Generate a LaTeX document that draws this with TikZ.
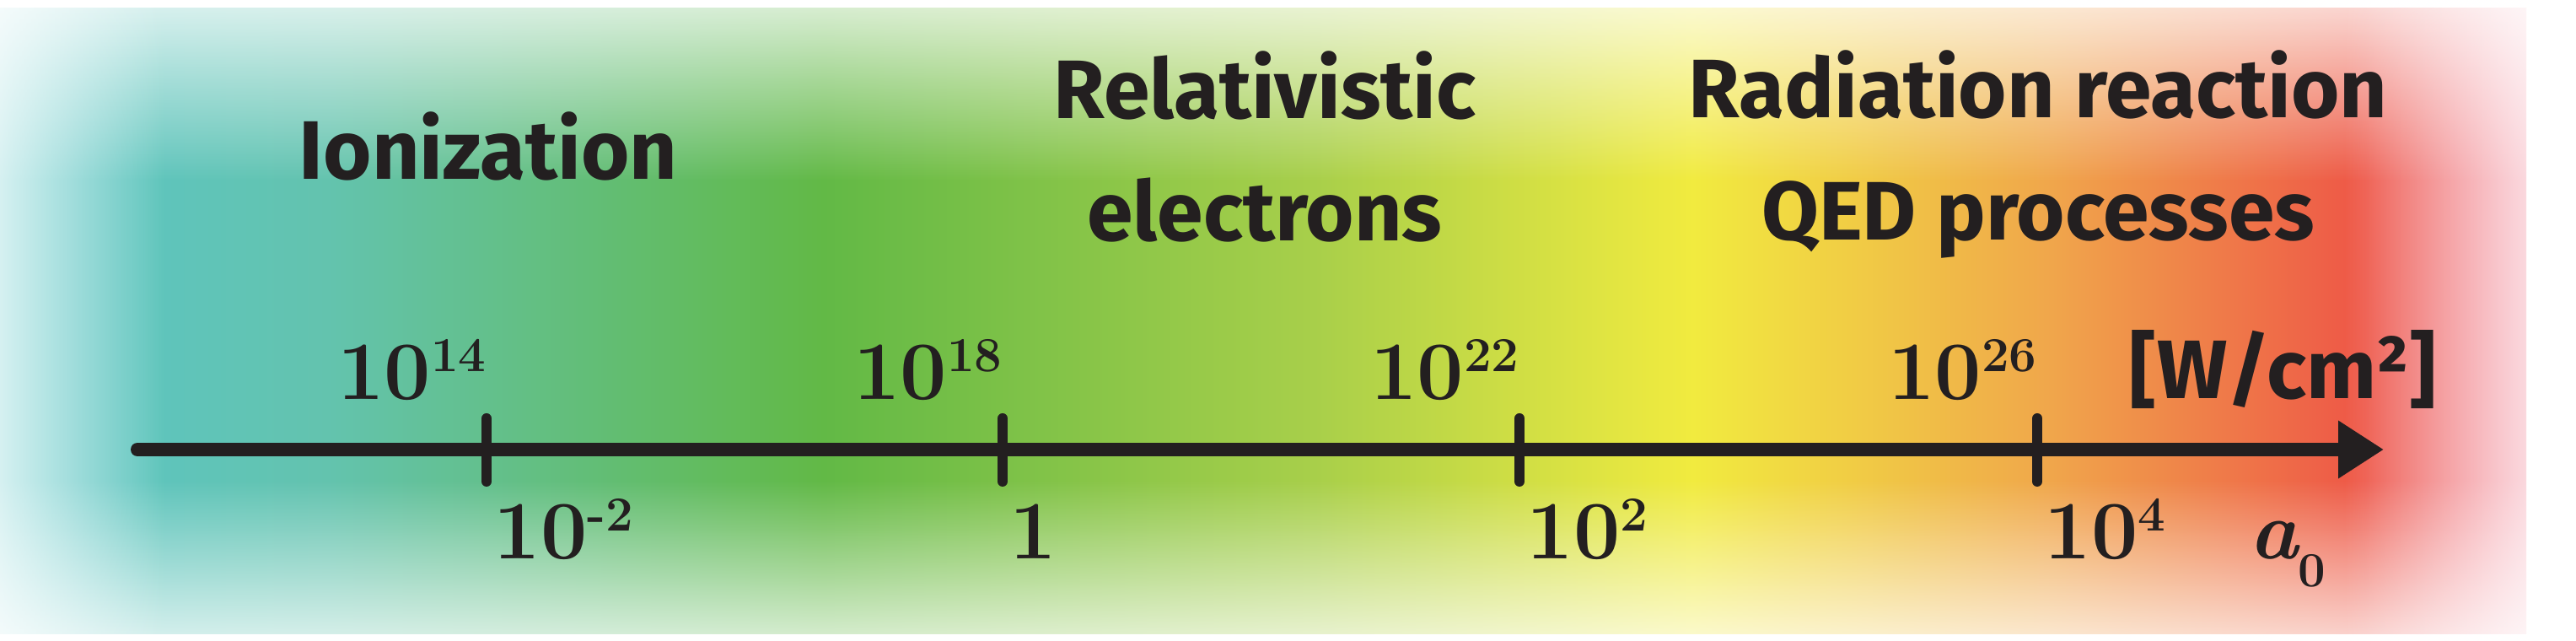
\documentclass[tikz,border=0pt]{standalone}
\usepackage{fontspec}
\setsansfont{Fira Sans}
\usetikzlibrary{arrows.meta,fadings}

\definecolor{ink}{HTML}{231F20}
\definecolor{cteal}{HTML}{5BC6C8}
\definecolor{caqua}{HTML}{63C3AE}
\definecolor{cgreen}{HTML}{62B946}
\definecolor{clime}{HTML}{A8CF4A}
\definecolor{cyellow}{HTML}{F1EB3F}
\definecolor{corange}{HTML}{F0A64B}
\definecolor{cred}{HTML}{EE5647}
\definecolor{cpink}{HTML}{EF6A80}

\pgfdeclarehorizontalshading{spectrum}{100bp}{color(0bp)=(cteal); color(25bp)=(cteal);
  color(31.5bp)=(caqua); color(41.3bp)=(cgreen); color(51bp)=(clime);
  color(58.5bp)=(cyellow); color(65.6bp)=(corange); color(71.8bp)=(cred);
  color(75bp)=(cpink); color(100bp)=(cpink)}

\tikzfading[name=edgeN, top color=transparent!0, bottom color=transparent!100]
\tikzfading[name=edgeS, top color=transparent!100, bottom color=transparent!0]
\tikzfading[name=edgeW, left color=transparent!0, right color=transparent!100]
\tikzfading[name=edgeE, left color=transparent!100, right color=transparent!0]

\newcommand\pw[1]{10\raisebox{0.34em}{\fontsize{16.5}{16.5}\selectfont #1}}
\newcommand\azero{{\itshape a}\raisebox{-0.33cm}{\fontsize{16.5}{16.5}\selectfont 0}}

\begin{document}
\begin{tikzpicture}[
  lbl/.style={font=\sffamily\bfseries\fontsize{28}{41.5}\selectfont, text=ink, align=center, anchor=base, inner sep=0},
  num/.style={font=\bfseries\fontsize{28}{28}\selectfont, text=ink, inner sep=0},
  wlbl/.style={num, anchor=base east, yshift=0.59cm},
  albl/.style={num, anchor=base west, xshift=0.08cm, yshift=-1.30cm},
  tickmark/.style={ink, line width=0.12cm, line cap=round},
  axis/.style={ink, line width=0.16cm, line cap=round, -{Triangle[length=0.54cm,width=0.65cm]}},
  soft/.style={fill=white, draw=none}
]
\useasboundingbox (0,0) rectangle (30.55,7.6);
% colour band with soft edges
\shade[shading=spectrum] (0,0.08) rectangle (29.96,7.5);
\begin{scope}
\clip (0,0) rectangle (30.55,7.6);
\fill[soft, path fading=edgeN] (-1,5.45) rectangle (31,8.2);
\fill[soft, path fading=edgeS] (-1,-0.6) rectangle (31,1.9);
\fill[soft, path fading=edgeW] (-0.65,-1) rectangle (1.95,9);
\fill[soft, path fading=edgeE] (27.8,-1) rectangle (30.7,9);
\end{scope}

% axis
\coordinate (start) at (1.63,2.27);
\coordinate (end) at (28.27,2.27);
\foreach \i/\x in {1/5.77,2/11.89,3/18.02,4/24.16}
  \coordinate (t\i) at (\x,2.27);
\draw[axis] (start) -- (end);
\foreach \i in {1,...,4}
  \draw[tickmark] ([yshift=-0.38cm]t\i) -- ([yshift=0.37cm]t\i);

% intensity
\node[wlbl] (w1) at (t1) {\pw{14}};
\node[wlbl] (w2) at (t2) {\pw{18}};
\node[wlbl] (w3) at (t3) {\pw{22}};
\node[wlbl] (w4) at (t4) {\pw{26}};
\node[lbl, anchor=base west] (unit) at (25.25,2.87) {[W/cm²]};

% a0
\node[albl] (a1) at (t1) {\pw{-2}};
\node[albl] (a2) at (t2) {1};
\node[albl] (a3) at (t3) {\pw{2}};
\node[albl] (a4) at (t4) {\pw{4}};
\node[num, anchor=base west] (azero) at (26.67,0.97) {\azero};

% regimes
\node[lbl] (ion) at (5.79,5.47) {Ionization};
\node[lbl] (rel) at (15.0,4.74) {Relativistic\\electrons};
\node[lbl] (rad) at (24.17,4.75) {Radiation reaction\\QED processes};
\end{tikzpicture}
\end{document}
